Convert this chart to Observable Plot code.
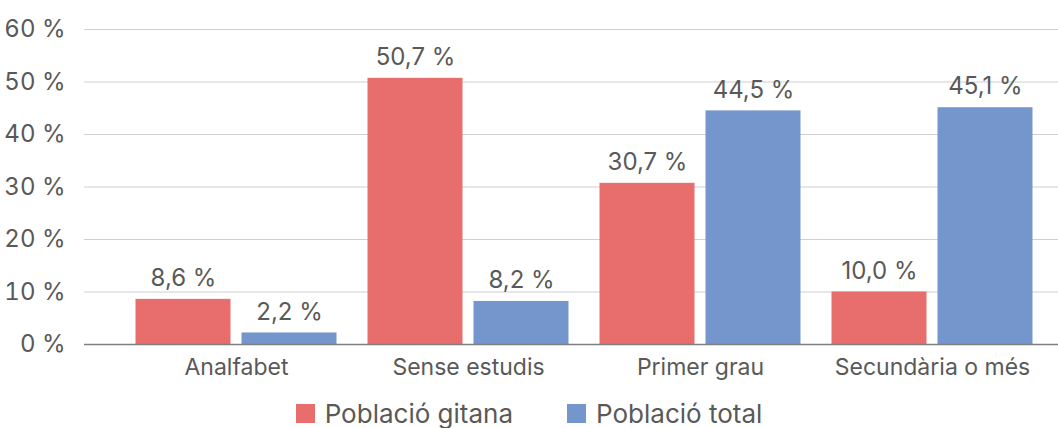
<!DOCTYPE html>
<html>
<head>
<meta charset="utf-8">
<script src="https://cdn.jsdelivr.net/npm/d3@7"></script>
<script src="https://cdn.jsdelivr.net/npm/@observablehq/plot@0.6"></script>
<style>
  html, body { margin: 0; padding: 0; background: #fff; }
  body { width: 1058px; height: 428px; overflow: hidden; font-family: Inter, Roboto, sans-serif; }
  #legend { display: flex; justify-content: center; align-items: center; gap: 54px; height: 38px; color: #595959; font-size: 26px; }
  #legend .item { display: flex; align-items: center; gap: 10px; }
  #legend .sw { width: 19px; height: 19px; display: inline-block; }
</style>
</head>
<body>
<div id="chart"></div>
<div id="legend"></div>
<script>
const categories = ["Analfabet", "Sense estudis", "Primer grau", "Secundària o més"];
const seriesNames = ["Població gitana", "Població total"];
const gitana = [8.6, 50.7, 30.7, 10.0];
const total = [2.2, 8.2, 44.5, 45.1];
const yTicks = [0, 10, 20, 30, 40, 50, 60];
const colors = ["#E76E6D", "#7596CC"];

const fmt = v => v.toFixed(1).replace(".", ",") + " %";
const dataG = categories.map((c, i) => ({cat: c, value: gitana[i]}));
const dataT = categories.map((c, i) => ({cat: c, value: total[i]}));

const textColor = "#595959";
const chart = Plot.plot({
  width: 1058,
  height: 394,
  marginLeft: 84,
  marginRight: 0,
  marginTop: 29,
  marginBottom: 50,
  style: {fontFamily: "Inter, Roboto, sans-serif", color: textColor, background: "#fff"},
  x: {domain: categories, range: [119.5, 1047.5], padding: 0, label: null},
  y: {domain: [0, 60], label: null},
  marks: [
    Plot.ruleY(yTicks.slice(1), {stroke: "#D0D0D0", strokeWidth: 1.2}),
    Plot.barY(dataG, {x: "cat", y: "value", fill: colors[0], insetLeft: 15.5, insetRight: 121.5}),
    Plot.barY(dataT, {x: "cat", y: "value", fill: colors[1], insetLeft: 121.5, insetRight: 15.5}),
    Plot.ruleY([0], {stroke: "#7F7F7F", strokeWidth: 1.3}),
    Plot.text(dataG, {x: "cat", y: "value", text: d => fmt(d.value), dx: -53, dy: -21, fontSize: 24, fill: textColor}),
    Plot.text(dataT, {x: "cat", y: "value", text: d => fmt(d.value), dx: 53, dy: -21, fontSize: 24, fill: textColor}),
    Plot.axisY({ticks: yTicks, tickFormat: d => d + " %", tickSize: 0, tickPadding: 19, fontSize: 24, label: null, fill: textColor}),
    Plot.axisX({tickSize: 0, tickPadding: 14, fontSize: 23, label: null, fill: textColor})
  ]
});
document.getElementById("chart").appendChild(chart);

const legend = document.getElementById("legend");
seriesNames.forEach((name, i) => {
  const item = document.createElement("div");
  item.className = "item";
  const sw = document.createElement("span");
  sw.className = "sw";
  sw.style.background = colors[i];
  const label = document.createElement("span");
  label.textContent = name;
  item.appendChild(sw);
  item.appendChild(label);
  legend.appendChild(item);
});
</script>
</body>
</html>
